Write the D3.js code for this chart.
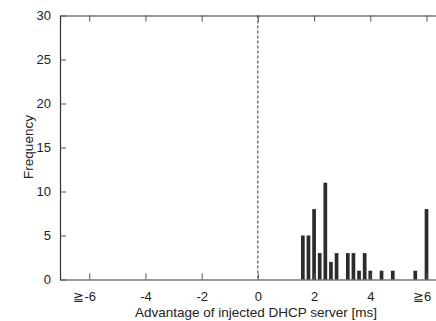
<!DOCTYPE html>
<html lang="en">
	<head>
		<meta charset="utf-8">
		<title>DHCP advantage histogram</title>
		<script src="https://d3js.org/d3.v7.min.js"></script>
		<style>
			html, body {
				margin: 0;
				padding: 0;
				background: #fff;
			}
			svg text {
				font-family: "Liberation Sans", Arial, sans-serif;
				fill: #222;
			}
		</style>
	</head>
	<body>
		<div id="chart"></div>
		<script>
			// Histogram bins (ms) and counts
			var binCenters = [1.6, 1.8, 2.0, 2.2, 2.4, 2.6, 2.8, 3.2, 3.4, 3.6, 3.8, 4.0, 4.4, 4.8, 5.6, 6.0];
			var counts     = [5,   5,   8,   3,   11,  2,   3,   3,   3,   1,   3,   1,   1,   1,   1,   8];
			var xTicks = [-6, -4, -2, 0, 2, 4, 6];
			var xTickLabels = ["\u2267-6", "-4", "-2", "0", "2", "4", "\u22676"];
			var yTicks = [0, 5, 10, 15, 20, 25, 30];

			var w = 436, h = 321;
			// plot box (right edge runs past the picture, as in the original)
			var plotL = 60, plotR = 440, plotT = 15.5, plotB = 279.5;

			var x = d3.scaleLinear().domain([-7.04, 6.48]).range([plotL, plotR]);
			var y = d3.scaleLinear().domain([0, 30]).range([plotB, plotT]);
			var barW = 3.7;

			var svg = d3.select("#chart")
						.append("svg")
						.attr("width", w)
						.attr("height", h);

			// bars
			svg.append("g")
				.selectAll("rect")
				.data(binCenters)
				.enter()
				.append("rect")
				.attr("x", function(d) { return x(d) - barW / 2; })
				.attr("width", barW)
				.attr("y", function(d, i) { return y(counts[i]); })
				.attr("height", function(d, i) { return y(0) - y(counts[i]); })
				.attr("fill", "#2b2b2b");

			// dashed line at zero
			svg.append("line")
				.attr("x1", x(0)).attr("x2", x(0))
				.attr("y1", plotT).attr("y2", plotB)
				.attr("stroke", "#333")
				.attr("stroke-width", 1)
				.attr("stroke-dasharray", "3,2");

			// axes: bottom, top mirror, left
			var xAxis = d3.axisBottom(x)
						.tickValues(xTicks)
						.tickSizeInner(-6)
						.tickSizeOuter(0)
						.tickPadding(12)
						.tickFormat(function(d, i) { return xTickLabels[i]; });
			var gx = svg.append("g")
				.attr("transform", "translate(0," + plotB + ")")
				.call(xAxis);
			// the open-ended bins' labels sit a bit left of their tick
			gx.selectAll(".tick text")
				.attr("dx", function(d, i) { return xTickLabels[i].indexOf("\u2267") === 0 ? -5 : 0; });

			var xTop = d3.axisTop(x)
						.tickValues(xTicks)
						.tickSizeInner(-6)
						.tickSizeOuter(0)
						.tickFormat("");
			var gxt = svg.append("g")
				.attr("transform", "translate(0," + plotT + ")")
				.call(xTop);

			var yAxis = d3.axisLeft(y)
						.tickValues(yTicks)
						.tickSizeInner(-6)
						.tickSizeOuter(0)
						.tickPadding(9);
			var gy = svg.append("g")
				.attr("transform", "translate(" + plotL + ",0)")
				.call(yAxis);

			[gx, gxt, gy].forEach(function(g) {
				g.selectAll("path").attr("stroke", "#333").attr("stroke-width", 1.2);
				g.selectAll(".tick line").attr("stroke", "#555").attr("stroke-width", 1);
				g.selectAll("text")
					.style("font-family", "'Liberation Sans', Arial, sans-serif")
					.style("font-size", "13px")
					.attr("fill", "#222");
			});

			// axis titles
			svg.append("text")
				.attr("x", 256)
				.attr("y", 317)
				.attr("text-anchor", "middle")
				.style("font-size", "13.5px")
				.text("Advantage of injected DHCP server [ms]");

			svg.append("text")
				.attr("transform", "translate(33,147) rotate(-90)")
				.attr("text-anchor", "middle")
				.style("font-size", "13.5px")
				.text("Frequency");
		</script>
	</body>
</html>
